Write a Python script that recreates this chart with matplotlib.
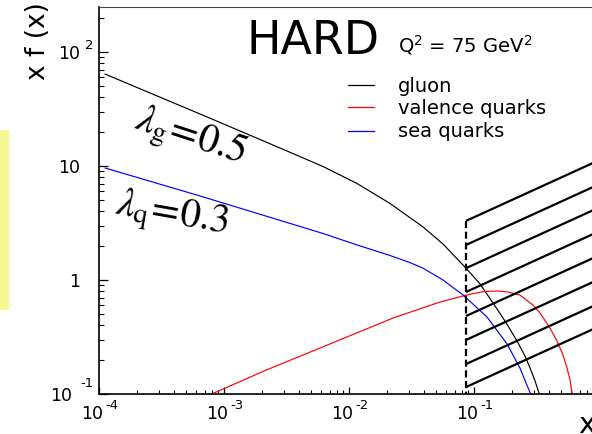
import numpy as np
import matplotlib
matplotlib.use('Agg')
import matplotlib.pyplot as plt
from matplotlib.transforms import offset_copy, blended_transform_factory
from matplotlib.patches import Rectangle
from matplotlib.lines import Line2D

# ---- data ----
gluon_x = [1.12e-4, 2.56e-4, 6.43e-4, 1.6e-3, 3.98e-3, 6.19e-3, 0.0116, 0.0213, 0.0391,
           0.0565, 0.0863, 0.1117, 0.1419, 0.177, 0.221, 0.256, 0.281, 0.308, 0.331, 0.356]
gluon_y = [64, 43.7, 28.6, 18.7, 12.2, 9.9, 7.02, 4.69, 2.92,
           2.07, 1.27, 0.923, 0.629, 0.437, 0.292, 0.215, 0.169, 0.130, 0.102, 0.079]

sea_x = [1.12e-4, 6.43e-4, 2.29e-3, 6.19e-3, 0.0116, 0.0213, 0.0308, 0.0391, 0.0565,
         0.0817, 0.127, 0.1837, 0.233, 0.286, 0.308]
sea_y = [9.6, 5.46, 3.57, 2.56, 2.03, 1.64, 1.42, 1.27, 1.0,
         0.739, 0.474, 0.275, 0.169, 0.098, 0.08]

val_x = [7.5e-4, 2.17e-3, 5.86e-3, 0.0225, 0.0535, 0.0817, 0.0982, 0.1225, 0.1528, 0.187,
         0.233, 0.2965, 0.337, 0.4055, 0.461, 0.515, 0.555, 0.586, 0.608, 0.619]
val_y = [0.097, 0.162, 0.253, 0.464, 0.641, 0.724, 0.761, 0.793, 0.801, 0.785,
         0.738, 0.603, 0.514, 0.379, 0.292, 0.220, 0.169, 0.133, 0.102, 0.085]

# hatched (excluded) region: vertical edge and start points of slanted lines
cut_x = 0.0863
cut_top = 3.3
hatch_start_y = [3.3, 2.03, 1.27, 0.785, 0.483, 0.298, 0.183, 0.115]
hatch_slope = 0.5
hatch_end_x = 1.0

x_ticks = [1e-4, 1e-3, 1e-2, 1e-1]
x_exps = ['-4', '-3', '-2', '-1']
y_ticks = [100, 10, 1, 0.1]
y_bases = ['10', '10', '1', '10']
y_exps = ['2', '', '', '-1']

legend_labels = ['gluon', 'valence quarks', 'sea quarks']
legend_colors = ['black', 'red', 'blue']

# ---- figure ----
W, H = 592, 435
fig = plt.figure(figsize=(W / 100, H / 100), dpi=100)
plt.rcParams['font.family'] = ['DejaVu Sans']
plt.rcParams['mathtext.fontset'] = 'dejavusans'

def fx(px):
    return px / W

def fy(py):
    return 1 - py / H

ax = fig.add_axes([fx(99), fy(395), 500 / W, 387 / H])
ax.set_xscale('log')
ax.set_yscale('log')
ax.set_xlim(1e-4, 1)
ax.set_ylim(0.1, 10 ** (387 / 114 - 1))

ax.plot(gluon_x, gluon_y, color='black', lw=0.85)
ax.plot(val_x, val_y, color='red', lw=0.85)
ax.plot(sea_x, sea_y, color='blue', lw=0.85)

# hatch
ax.plot([cut_x, cut_x], [cut_top, 0.1], color='black', lw=1.6,
        linestyle=(0, (3.2, 1.6)))
for ys in hatch_start_y:
    ye = ys * (hatch_end_x / cut_x) ** hatch_slope
    ax.plot([cut_x, hatch_end_x], [ys, ye], color='black', lw=1.6,
            solid_capstyle='butt')

# spines / ticks
for s in ['left', 'bottom']:
    ax.spines[s].set_linewidth(1.2)
ax.spines['top'].set_linewidth(0.8)
ax.spines['top'].set_color('#444444')
ax.spines['right'].set_visible(False)
ax.tick_params(axis='y', which='major', direction='in', length=6.5, width=0.9,
               left=True, right=False, labelleft=False)
ax.tick_params(axis='y', which='minor', direction='in', length=3.6, width=0.8,
               left=True, right=False, labelleft=False)
ax.tick_params(axis='x', which='major', direction='in', length=5, width=0.9,
               bottom=True, top=False, labelbottom=False)
ax.tick_params(axis='x', which='minor', direction='in', length=2.9, width=0.8,
               bottom=True, top=False, labelbottom=False)
ax.set_xticks(x_ticks)
ax.set_yticks(y_ticks)

# tick labels (ROOT style "10 exp")
tx = blended_transform_factory(ax.transData, ax.transAxes)
for xv, e in zip(x_ticks, x_exps):
    ax.text(xv, 0, '10', transform=offset_copy(tx, fig=fig, x=4, y=-24, units='dots'),
            ha='right', va='baseline', fontsize=12.5)
    ax.text(xv, 0, e, transform=offset_copy(tx, fig=fig, x=6, y=-14, units='dots'),
            ha='left', va='baseline', fontsize=9.5)

ty = blended_transform_factory(ax.transAxes, ax.transData)
for yv, b, e in zip(y_ticks, y_bases, y_exps):
    if e == '-1':
        bx, ex, ey = -27, -19, 8
    else:
        bx, ex, ey = -19, -14, 4
    ax.text(0, yv, b, transform=offset_copy(ty, fig=fig, x=bx, y=-6, units='dots'),
            ha='right', va='baseline', fontsize=12.5)
    if e:
        ax.text(0, yv, e, transform=offset_copy(ty, fig=fig, x=ex, y=ey, units='dots'),
                ha='left', va='baseline', fontsize=9.5)

# axis titles
fig.text(fx(38), fy(41), 'x f (x)', rotation=90, ha='center', va='center', fontsize=19)
fig.text(fx(578), fy(433), 'x', ha='left', va='baseline', fontsize=21)

# annotations
fig.text(fx(313), fy(41), 'HARD', ha='center', va='center', fontsize=33)
fig.text(fx(398), fy(45), r'Q$^{2}$ = 75 GeV$^{2}$', ha='left', va='center', fontsize=14)

fig.text(fx(190), fy(138), r'$\lambda_{\mathrm{g}}\!=\!\mathit{0.5}$', ha='center', va='center',
         fontsize=29, rotation=-18, rotation_mode='anchor', math_fontfamily='stix')
fig.text(fx(172), fy(216), r'$\lambda_{\mathrm{q}}\!=\!\mathit{0.3}$', ha='center', va='center',
         fontsize=29, rotation=-10, rotation_mode='anchor', math_fontfamily='stix')

# legend
for i, (lab, col) in enumerate(zip(legend_labels, legend_colors)):
    yy = [86, 108, 132][i]
    fig.add_artist(Line2D([fx(348), fx(374)], [fy(yy), fy(yy)], color=col, lw=0.9))
    fig.text(fx(398), fy(yy), lab, ha='left', va='center', fontsize=14)

# yellow strip on the left
fig.add_artist(Rectangle((0, fy(311)), fx(9), (311 - 131) / H, transform=fig.transFigure,
                         facecolor='#f7f78f', edgecolor='none'))

fig.savefig('out.png', dpi=100)
